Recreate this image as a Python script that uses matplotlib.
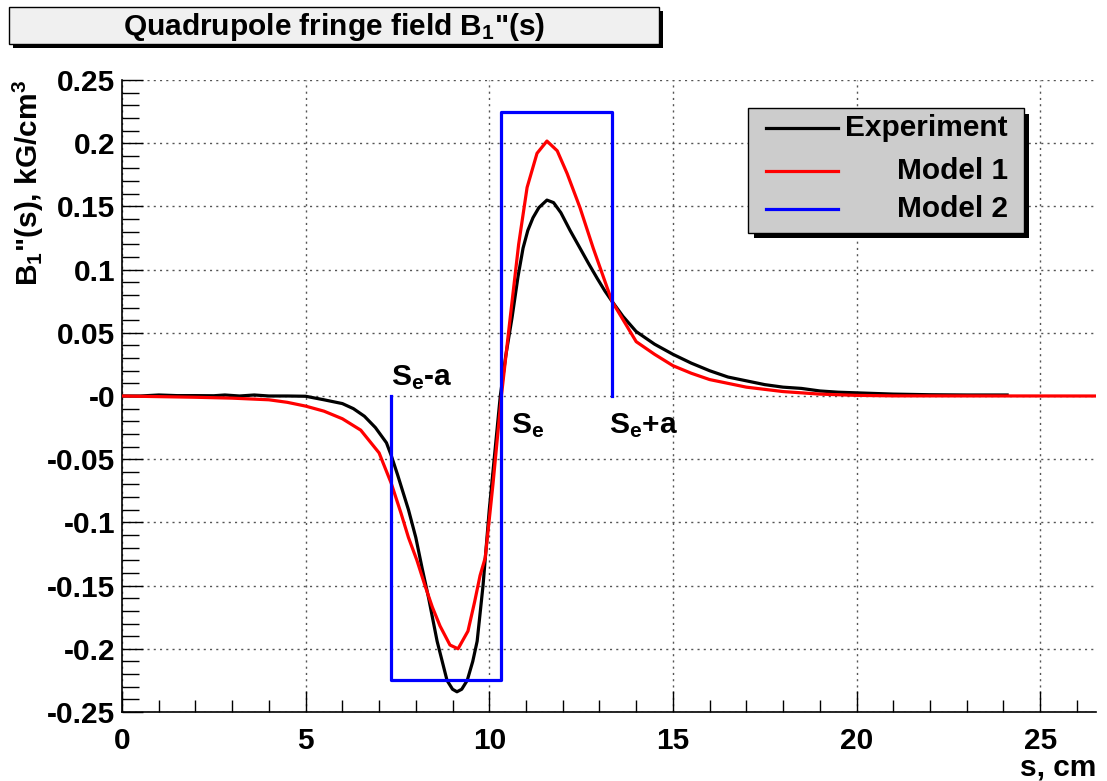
import matplotlib
matplotlib.use("Agg")
import matplotlib.pyplot as plt
from matplotlib.patches import Rectangle
from matplotlib.lines import Line2D
from matplotlib.ticker import MultipleLocator, FixedLocator, FixedFormatter

FONT = ['Liberation Sans', 'DejaVu Sans']
plt.rcParams['font.family'] = FONT
plt.rcParams['font.weight'] = 'bold'
plt.rcParams['mathtext.fontset'] = 'custom'
plt.rcParams['mathtext.rm'] = 'Liberation Sans:bold'
plt.rcParams['mathtext.it'] = 'Liberation Sans:bold'
plt.rcParams['mathtext.bf'] = 'Liberation Sans:bold'

FS = 21.5

# ---- data ----
exp_s = [0, 0.5, 1.0, 1.5, 2.0, 2.5, 2.8, 3.2, 3.6, 4.0, 4.5, 5.0, 5.5, 6.0, 6.3, 6.6,
         6.9, 7.2, 7.33, 7.5, 7.8, 8.0, 8.17, 8.35, 8.58, 8.85, 9.0, 9.12, 9.25, 9.4,
         9.55, 9.67, 9.83, 10.0, 10.15, 10.3, 10.45, 10.62, 10.78, 10.92, 11.05, 11.19,
         11.35, 11.57, 11.75, 11.95, 12.2, 12.47, 12.7, 12.94, 13.15, 13.34, 13.64, 14.0,
         14.5, 15.0, 15.5, 16.0, 16.5, 17.0, 17.5, 18.0, 18.5, 19.0, 19.5, 20.0, 21.0,
         22.0, 23.0, 24.1]
exp_b = [0, 0, 0.0008, 0.0003, 0.0003, 0.0002, 0.0008, 0.0, 0.0008, 0.0, 0.0, -0.0002,
         -0.003, -0.006, -0.01, -0.016, -0.025, -0.037, -0.047, -0.062, -0.09, -0.112,
         -0.136, -0.16, -0.194, -0.225, -0.232, -0.234, -0.232, -0.225, -0.21, -0.194,
         -0.15, -0.09, -0.045, 0.0, 0.032, 0.062, 0.094, 0.117, 0.131, 0.141, 0.149,
         0.155, 0.153, 0.145, 0.131, 0.117, 0.105, 0.093, 0.083, 0.075, 0.063, 0.051,
         0.041, 0.033, 0.026, 0.020, 0.015, 0.012, 0.009, 0.007, 0.006, 0.004, 0.003,
         0.0025, 0.0015, 0.001, 0.0008, 0.0008]

m1_s = [0, 1, 2, 3, 4, 4.5, 5, 5.5, 6, 6.5, 7.0, 7.33, 7.6, 7.8, 8.03, 8.25, 8.45, 8.66,
        8.93, 9.15, 9.42, 9.6, 9.75, 9.89, 10.1, 10.33, 10.57, 10.8, 11.03, 11.3, 11.57,
        11.85, 12.12, 12.47, 12.83, 13.34, 14.0, 14.5, 15.0, 15.5, 16.0, 16.5, 17.0,
        18.0, 19.0, 20.0, 21.0, 26.5]
m1_b = [0, -0.0005, -0.001, -0.0017, -0.003, -0.005, -0.008, -0.012, -0.018, -0.027,
        -0.045, -0.069, -0.093, -0.112, -0.13, -0.15, -0.167, -0.182, -0.197, -0.200,
        -0.186, -0.163, -0.142, -0.128, -0.07, 0.0, 0.062, 0.12, 0.165, 0.192, 0.2017,
        0.194, 0.176, 0.149, 0.117, 0.075, 0.043, 0.033, 0.024, 0.018, 0.013, 0.010,
        0.007, 0.0035, 0.0015, 0.0005, 0.0001, 0.0]

m2_s = [7.33, 7.33, 10.33, 10.33, 13.33, 13.33]
m2_b = [0.0, -0.225, -0.225, 0.225, 0.225, 0.0]

x_ticks = [0, 5, 10, 15, 20, 25]
x_tick_labels = ['0', '5', '10', '15', '20', '25']
y_ticks = [-0.25, -0.2, -0.15, -0.1, -0.05, 0, 0.05, 0.1, 0.15, 0.2, 0.25]
y_tick_labels = ['-0.25', '-0.2', '-0.15', '-0.1', '-0.05', '-0', '0.05', '0.1', '0.15', '0.2', '0.25']

W, H = 1107, 781
fig = plt.figure(figsize=(W / 100, H / 100), dpi=100)
ax = fig.add_axes([122 / W, 1 - 712 / H, (1096 - 122) / W, (712 - 80) / H])

ax.plot(exp_s, exp_b, color='black', lw=2.3, zorder=3)
ax.plot(m1_s, m1_b, color='red', lw=2.3, zorder=4)
ax.plot(m2_s, m2_b, color='blue', lw=2.3, zorder=5)

ax.set_xlim(0, 26.52)
ax.set_ylim(-0.25, 0.25)

ax.xaxis.set_major_locator(FixedLocator(x_ticks))
ax.xaxis.set_major_formatter(FixedFormatter(x_tick_labels))
ax.xaxis.set_minor_locator(MultipleLocator(1))
ax.yaxis.set_major_locator(FixedLocator(y_ticks))
ax.yaxis.set_major_formatter(FixedFormatter(y_tick_labels))
ax.yaxis.set_minor_locator(MultipleLocator(0.01))

ax.tick_params(which='both', direction='in', top=False, right=False, width=1)
ax.tick_params(axis='x', which='major', length=15, labelsize=FS, pad=11)
ax.tick_params(axis='x', which='minor', length=9)
ax.tick_params(axis='y', which='major', length=15, labelsize=FS, pad=5)
ax.tick_params(axis='y', which='minor', length=12)
for lab in ax.get_xticklabels() + ax.get_yticklabels():
    lab.set_fontweight('bold')

ax.spines['top'].set_visible(False)
ax.spines['right'].set_visible(False)
ax.spines['left'].set_linewidth(1.2)
ax.spines['bottom'].set_linewidth(1.2)

ax.grid(True, which='major', linestyle=(0, (1.5, 3)), color='#555555', linewidth=1.0)
ax.set_axisbelow(True)

# axis titles
fig.text(1096 / W, 1 - 767 / H, 's, cm', ha='right', va='center', fontsize=FS, fontweight='bold')
fig.text(28 / W, 1 - 80 / H, 'B$_1$"(s), kG/cm$^3$', rotation=90, ha='center', va='top',
         fontsize=FS, fontweight='bold')

# annotations
ax.text(7.33, 0.003, 'S$_e$-a', ha='left', va='bottom', fontsize=FS, fontweight='bold')
ax.text(10.6, -0.012, 'S$_e$', ha='left', va='top', fontsize=FS, fontweight='bold')
ax.text(13.26, -0.012, 'S$_e$+a', ha='left', va='top', fontsize=FS, fontweight='bold')

# title box
def px_rect(x0, y0, x1, y1, **kw):
    return Rectangle((x0 / W, 1 - y1 / H), (x1 - x0) / W, (y1 - y0) / H,
                     transform=fig.transFigure, figure=fig, **kw)

fig.patches.append(px_rect(13, 11, 663, 48, facecolor='black', edgecolor='black', lw=0))
fig.patches.append(px_rect(9, 7, 659, 44, facecolor='#f0f0f0', edgecolor='black', lw=1))
fig.text(334 / W, 1 - 27 / H, 'Quadrupole fringe field B$_1$"(s)', ha='center', va='center',
         fontsize=FS, fontweight='bold')

# legend box
fig.patches.append(px_rect(754, 114, 1029, 238, facecolor='black', edgecolor='black', lw=0, zorder=10))
fig.patches.append(px_rect(748, 108, 1024, 233, facecolor='#cccccc', edgecolor='black', lw=1, zorder=11))
leg_items = [('Experiment', 'black', 128), ('Model 1', 'red', 171), ('Model 2', 'blue', 209)]
for name, col, yy in leg_items:
    fig.lines.append(Line2D([766 / W, 838 / W], [1 - yy / H, 1 - yy / H], transform=fig.transFigure,
                            color=col, lw=2.3, zorder=12))
    fig.text(1008 / W, 1 - yy / H, name, ha='right', va='center', fontsize=FS,
             fontweight='bold', zorder=13)

fig.savefig('out.png', dpi=100, facecolor='white')
